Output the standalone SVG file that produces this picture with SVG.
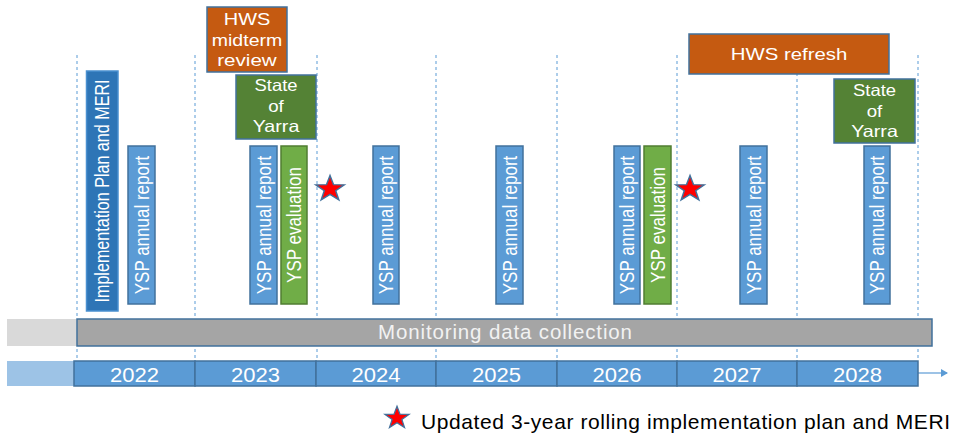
<svg xmlns="http://www.w3.org/2000/svg" width="953" height="436" viewBox="0 0 953 436">
<style>
  text { font-family: "Liberation Sans", Arial, sans-serif; fill: #ffffff; }
  .grid { stroke: #5B9BD5; stroke-width: 1; stroke-dasharray: 3 3; fill: none; }
  .box { stroke: #41719C; stroke-width: 1.5; }
  .ysp { fill: #5B9BD5; }
  .eval { fill: #70AD47; stroke: #507E32; stroke-width: 1.5; }
  .hws { fill: #C55A11; }
  .soy { fill: #548235; }
  .impl { fill: #2E75B6; stroke: #4A90D0; stroke-width: 1.5; }
  .vt { font-size: 17px; text-anchor: middle; }
  .ct { font-size: 16.5px; text-anchor: middle; }
  .yr { font-size: 20.5px; text-anchor: middle; }
  .star { fill: #FF0000; stroke: #41719C; stroke-width: 1.5; stroke-linejoin: miter; }
</style>
<defs>
  <path id="starShape" d="M0,-15 L3.53,-4.85 L14.27,-4.64 L5.71,1.85 L8.82,12.14 L0,6 L-8.82,12.14 L-5.71,1.85 L-14.27,-4.64 L-3.53,-4.85 Z"/>
  <marker id="arrowHead" markerWidth="8" markerHeight="8" refX="6" refY="4" orient="auto" markerUnits="userSpaceOnUse">
    <path d="M0,0 L7,4 L0,8 Z" fill="#5B9BD5"/>
  </marker>
</defs>
<rect width="953" height="436" fill="#ffffff"/>

<g id="gridlines">
  <line class="grid" x1="77" y1="55" x2="77" y2="361"/>
  <line class="grid" x1="195" y1="55" x2="195" y2="361"/>
  <line class="grid" x1="317" y1="55" x2="317" y2="361"/>
  <line class="grid" x1="436" y1="55" x2="436" y2="361"/>
  <line class="grid" x1="557" y1="55" x2="557" y2="361"/>
  <line class="grid" x1="677" y1="55" x2="677" y2="361"/>
  <line class="grid" x1="797" y1="55" x2="797" y2="361"/>
  <line class="grid" x1="918" y1="55" x2="918" y2="361"/>
</g>

<g id="connectors">
  <line x1="918" y1="373" x2="947" y2="373" stroke="#9DC3E6" stroke-width="2" marker-end="url(#arrowHead)"/>
</g>

<g id="implementation-plan">
  <rect class="impl" x="86.5" y="71" width="31.5" height="240"/>
  <text class="vt" transform="translate(102,191) scale(1.2,1) rotate(-90)" y="6" textLength="223" lengthAdjust="spacingAndGlyphs">Implementation Plan and MERI</text>
</g>

<g id="ysp-2022">
  <rect class="box ysp" x="128" y="146" width="27" height="158"/>
  <text class="vt" transform="translate(141.5,225) scale(1.2,1) rotate(-90)" y="6">YSP annual report</text>
</g>

<g id="hws-midterm">
  <rect class="box hws" x="207" y="7" width="80" height="65"/>
  <text class="ct" x="247" y="25" textLength="46.5" lengthAdjust="spacingAndGlyphs">HWS</text>
  <text class="ct" x="247" y="46" textLength="70.5" lengthAdjust="spacingAndGlyphs">midterm</text>
  <text class="ct" x="247" y="66" textLength="59.5" lengthAdjust="spacingAndGlyphs">review</text>
</g>

<g id="soy-2023">
  <rect class="box soy" x="236" y="75" width="80" height="64"/>
  <text class="ct" x="276" y="91" textLength="43" lengthAdjust="spacingAndGlyphs">State</text>
  <text class="ct" x="276" y="111.5" textLength="15.6" lengthAdjust="spacingAndGlyphs">of</text>
  <text class="ct" x="276" y="132" textLength="46.7" lengthAdjust="spacingAndGlyphs">Yarra</text>
</g>

<g id="ysp-2023">
  <rect class="box ysp" x="250" y="146" width="27" height="158"/>
  <text class="vt" transform="translate(263.5,225) scale(1.2,1) rotate(-90)" y="6">YSP annual report</text>
</g>

<g id="eval-2023">
  <rect class="eval" x="281" y="146" width="26" height="158"/>
  <text class="vt" transform="translate(294,225) scale(1.2,1) rotate(-90)" y="6">YSP evaluation</text>
</g>

<g id="star-2023">
  <use href="#starShape" class="star" transform="translate(330,189) scale(1,0.9)"/>
</g>

<g id="ysp-2024">
  <rect class="box ysp" x="373" y="146" width="26" height="158"/>
  <text class="vt" transform="translate(386,225) scale(1.2,1) rotate(-90)" y="6">YSP annual report</text>
</g>

<g id="ysp-2025">
  <rect class="box ysp" x="496" y="146" width="27" height="158"/>
  <text class="vt" transform="translate(509.5,225) scale(1.2,1) rotate(-90)" y="6">YSP annual report</text>
</g>

<g id="ysp-2026">
  <rect class="box ysp" x="614" y="146" width="26" height="158"/>
  <text class="vt" transform="translate(627,225) scale(1.2,1) rotate(-90)" y="6">YSP annual report</text>
</g>

<g id="eval-2026">
  <rect class="eval" x="644" y="146" width="27" height="158"/>
  <text class="vt" transform="translate(657.5,225) scale(1.2,1) rotate(-90)" y="6">YSP evaluation</text>
</g>

<g id="star-2026">
  <use href="#starShape" class="star" transform="translate(690,189) scale(1,0.9)"/>
</g>

<g id="hws-refresh">
  <rect class="box hws" x="689" y="34" width="200" height="40"/>
  <text class="ct" x="789" y="60" textLength="116.5" lengthAdjust="spacingAndGlyphs">HWS refresh</text>
</g>

<g id="ysp-2027">
  <rect class="box ysp" x="740" y="146" width="27" height="158"/>
  <text class="vt" transform="translate(753.5,225) scale(1.2,1) rotate(-90)" y="6">YSP annual report</text>
</g>

<g id="soy-2028">
  <rect class="box soy" x="834" y="79" width="81" height="64"/>
  <text class="ct" x="874.5" y="96" textLength="43" lengthAdjust="spacingAndGlyphs">State</text>
  <text class="ct" x="874.5" y="116.5" textLength="15.6" lengthAdjust="spacingAndGlyphs">of</text>
  <text class="ct" x="874.5" y="137" textLength="46.7" lengthAdjust="spacingAndGlyphs">Yarra</text>
</g>

<g id="ysp-2028">
  <rect class="box ysp" x="864" y="146" width="26" height="158"/>
  <text class="vt" transform="translate(877,225) scale(1.2,1) rotate(-90)" y="6">YSP annual report</text>
</g>

<g id="monitoring">
  <rect x="7" y="319" width="70" height="27" fill="#D9D9D9"/>
  <rect class="box" x="77" y="319" width="855" height="27" fill="#A5A5A5"/>
  <text x="378" y="339" font-size="20.5" textLength="254" lengthAdjust="spacing" style="fill:#F2F2F2">Monitoring data collection</text>
</g>

<g id="years">
  <rect x="7" y="361" width="67" height="25" fill="#9DC3E6"/>
  <rect class="box ysp" x="74" y="361" width="121" height="25"/>
  <rect class="box ysp" x="195" y="361" width="121" height="25"/>
  <rect class="box ysp" x="316" y="361" width="120" height="25"/>
  <rect class="box ysp" x="436" y="361" width="121" height="25"/>
  <rect class="box ysp" x="557" y="361" width="120" height="25"/>
  <rect class="box ysp" x="677" y="361" width="120" height="25"/>
  <rect class="box ysp" x="797" y="361" width="121" height="25"/>
  <text class="yr" x="134.5" y="381.5" textLength="49" lengthAdjust="spacingAndGlyphs">2022</text>
  <text class="yr" x="255.5" y="381.5" textLength="49" lengthAdjust="spacingAndGlyphs">2023</text>
  <text class="yr" x="376" y="381.5" textLength="49" lengthAdjust="spacingAndGlyphs">2024</text>
  <text class="yr" x="496.5" y="381.5" textLength="49" lengthAdjust="spacingAndGlyphs">2025</text>
  <text class="yr" x="617" y="381.5" textLength="49" lengthAdjust="spacingAndGlyphs">2026</text>
  <text class="yr" x="737" y="381.5" textLength="49" lengthAdjust="spacingAndGlyphs">2027</text>
  <text class="yr" x="857.5" y="381.5" textLength="49" lengthAdjust="spacingAndGlyphs">2028</text>
</g>

<g id="legend">
  <use href="#starShape" class="star" transform="translate(397,418) scale(0.85,0.78)"/>
  <text x="421" y="429" font-size="21" textLength="529" lengthAdjust="spacing" style="fill:#000000">Updated 3-year rolling implementation plan and MERI</text>
</g>
</svg>
